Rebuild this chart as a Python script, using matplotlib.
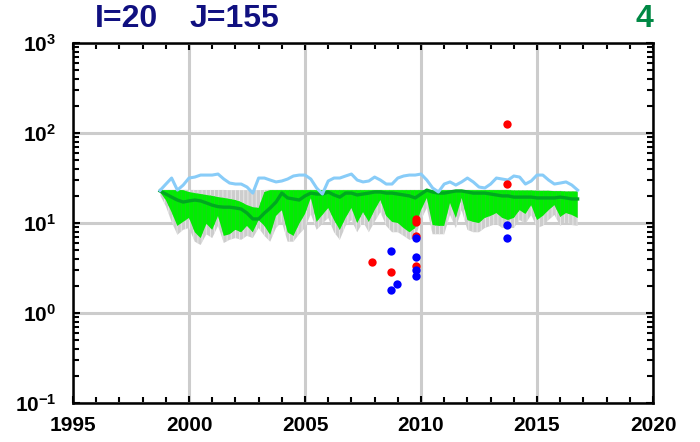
import numpy as np
import matplotlib
matplotlib.use('Agg')
import matplotlib.pyplot as plt
from matplotlib.ticker import LogLocator, MultipleLocator, NullFormatter

plt.rcParams['font.family'] = ['Liberation Sans', 'DejaVu Sans']
plt.rcParams['mathtext.fontset'] = 'custom'
plt.rcParams['mathtext.bf'] = 'Liberation Sans:bold'
plt.rcParams['mathtext.rm'] = 'Liberation Sans'
plt.rcParams['hatch.linewidth'] = 0.6

# quarterly sampling, 1998.75 .. 2016.75
t = 1998.75 + 0.25 * np.arange(73)

# light blue line
blue_line = [23.0, 27.0, 31.6, 23.2, 26.4, 31.6, 32.4, 34.1, 34.1, 34.1,
             35.0, 30.8, 27.8, 27.1, 27.1, 25.1, 21.5, 31.6, 31.6, 30.0,
             28.6, 29.3, 30.8, 33.3, 34.1, 34.1, 30.8, 24.5, 21.0, 29.3,
             31.6, 31.6, 33.3, 35.0, 30.0, 28.6, 29.3, 32.4, 30.0, 27.1,
             27.1, 31.6, 33.3, 34.1, 34.1, 35.0, 30.0, 24.5, 22.1, 27.1,
             28.6, 26.4, 28.6, 31.6, 28.6, 25.1, 24.5, 27.1, 31.6, 30.8,
             30.0, 33.3, 32.4, 27.1, 29.3, 34.1, 34.1, 30.0, 27.1, 27.8,
             28.6, 26.4, 23.2]

# dark green median
median = [22.7, 21.0, 19.4, 18.0, 17.1, 17.6, 18.0, 17.6, 16.7, 15.8,
          15.2, 15.0, 15.0, 14.7, 14.3, 12.9, 11.1, 11.1, 12.9, 14.7,
          17.1, 21.5, 19.0, 18.5, 18.0, 20.0, 21.5, 21.0, 21.0, 22.1,
          20.5, 19.4, 21.5, 21.5, 20.5, 21.0, 21.5, 22.1, 22.1, 21.5,
          21.5, 21.0, 20.5, 20.0, 19.0, 21.0, 23.2, 22.1, 21.5, 21.5,
          22.1, 22.7, 22.7, 22.1, 21.5, 21.5, 21.5, 21.0, 20.5, 20.0,
          20.0, 19.4, 19.4, 19.4, 19.4, 19.0, 19.0, 19.0, 19.0, 19.4,
          19.0, 18.5, 18.5]

# green band
green_top = [23.2, 23.2, 23.2, 23.2, 23.2, 22.1, 21.5, 21.0, 20.5, 20.0,
             19.4, 19.0, 18.5, 18.0, 17.1, 15.8, 15.0, 14.7, 22.1, 23.2,
             23.2, 23.2, 23.2, 23.2, 23.2, 23.2, 23.2, 23.2, 23.2, 23.2,
             23.2, 23.2, 23.2, 23.2, 23.2, 23.2, 23.2, 23.2, 23.2, 23.2,
             23.2, 23.2, 23.2, 23.2, 23.2, 23.2, 23.2, 23.2, 23.2, 23.2,
             23.2, 23.2, 23.2, 23.2, 23.2, 23.2, 23.2, 23.2, 23.2, 23.2,
             23.2, 23.0, 23.0, 23.0, 23.0, 22.8, 22.8, 22.8, 22.6, 22.6,
             22.4, 22.4, 22.4]
green_bot = [22.1, 18.0, 13.2, 9.3, 10.3, 11.4, 7.9, 6.8, 9.8, 8.4,
             12.0, 7.2, 7.5, 8.4, 7.9, 9.3, 7.9, 10.8, 9.3, 7.4,
             12.0, 13.9, 7.9, 7.2, 9.8, 12.6, 19.0, 10.3, 12.3, 14.7,
             10.8, 8.4, 11.4, 14.7, 10.0, 13.2, 10.3, 13.9, 18.0, 12.0,
             10.3, 10.0, 8.8, 7.9, 8.8, 13.9, 19.0, 9.5, 9.3, 9.3,
             16.7, 11.4, 19.0, 10.8, 10.3, 10.0, 11.4, 12.0, 12.9, 11.4,
             10.8, 11.4, 13.9, 12.6, 15.8, 10.8, 12.0, 13.9, 15.8, 11.7,
             12.9, 12.3, 11.4]

# grey band
grey_top = [23.4, 23.4, 23.4, 23.4, 23.4, 23.4, 23.3, 23.3, 23.3, 23.3,
            23.3, 23.3, 23.2, 23.2, 23.2, 23.2, 23.2, 23.2, 23.3, 23.4,
            23.4, 23.4, 23.4, 23.4, 23.4, 23.4, 23.4, 23.4, 23.4, 23.4,
            23.4, 23.4, 23.4, 23.4, 23.4, 23.4, 23.4, 23.4, 23.4, 23.4,
            23.4, 23.4, 23.4, 23.4, 23.4, 23.4, 23.4, 23.4, 23.4, 23.4,
            23.4, 23.4, 23.4, 23.4, 23.4, 23.4, 23.4, 23.4, 23.4, 23.4,
            23.4, 23.2, 23.2, 23.2, 23.2, 23.0, 23.0, 23.0, 22.8, 22.8,
            22.6, 22.6, 22.6]
grey_bot = [20.5, 15.4, 10.3, 7.4, 8.4, 8.8, 6.2, 5.7, 7.5, 6.8,
            9.3, 6.0, 6.5, 6.8, 6.5, 7.2, 6.8, 8.8, 7.2, 6.2,
            8.8, 10.3, 6.2, 6.2, 7.5, 8.8, 12.6, 8.4, 9.8, 11.4,
            7.9, 6.5, 9.3, 10.8, 7.9, 10.3, 7.9, 10.3, 13.2, 9.3,
            7.9, 7.9, 7.2, 6.5, 6.8, 10.8, 14.7, 7.5, 7.5, 7.5,
            12.3, 8.8, 13.9, 8.4, 7.9, 7.9, 8.8, 9.3, 9.8, 8.8,
            8.8, 8.8, 10.8, 9.8, 12.3, 8.8, 9.3, 10.8, 12.3, 9.3,
            10.3, 9.5, 9.3]

# observation points
red_t = [2013.7, 2013.7, 2009.8, 2009.8, 2009.8, 2007.9, 2008.7, 2009.8]
red_v = [126, 27, 11.2, 10.3, 7.2, 3.7, 2.85, 3.3]
blue_t = [2013.7, 2013.7, 2008.7, 2008.7, 2008.95, 2009.8, 2009.8, 2009.8, 2009.8]
blue_v = [9.5, 6.8, 4.85, 1.79, 2.1, 6.9, 4.2, 3.0, 2.6]

fig = plt.figure(figsize=(7.0, 4.42), dpi=100)
ax = fig.add_axes([0.1043, 0.0882, 0.8286, 0.8145])

ax.fill_between(t, grey_bot, grey_top, facecolor='#cdcdcd', edgecolor='#ececec',
                hatch='||||', lw=0, zorder=2)
ax.fill_between(t, green_bot, green_top, facecolor='#00ee00', edgecolor='#1cd41c',
                hatch='||||', lw=0, zorder=3)
ax.plot(t, median, color='#00a820', lw=2.4, zorder=4)
ax.plot(t, blue_line, color='#88ccf8', lw=2.2, zorder=4)
ax.plot(red_t, red_v, 'o', color='#ff0000', ms=6, mec='none', zorder=5)
ax.plot(blue_t, blue_v, 'o', color='#0000ff', ms=6, mec='none', zorder=5)

ax.set_yscale('log')
ax.set_xlim(1995, 2020)
ax.set_ylim(0.1, 1000)

ax.set_xticks([1995, 2000, 2005, 2010, 2015, 2020])
ax.set_xticklabels(['1995', '2000', '2005', '2010', '2015', '2020'],
                   fontsize=15, fontweight='bold')
ax.xaxis.set_minor_locator(MultipleLocator(1))
ax.set_yticks([0.1, 1, 10, 100, 1000])
ax.set_yticklabels([r'$\mathbf{10^{-1}}$', r'$\mathbf{10^{0}}$', r'$\mathbf{10^{1}}$',
                    r'$\mathbf{10^{2}}$', r'$\mathbf{10^{3}}$'], fontsize=15)
ax.yaxis.set_minor_locator(LogLocator(base=10, subs=np.arange(2, 10)))
ax.yaxis.set_minor_formatter(NullFormatter())

ax.tick_params(which='both', direction='in', top=True, right=True, width=1.5)
ax.tick_params(which='major', length=5)
ax.tick_params(axis='x', which='major', pad=9)
ax.tick_params(axis='y', which='major', pad=12)
ax.tick_params(which='minor', length=4)
for s in ax.spines.values():
    s.set_linewidth(1.8)

ax.grid(True, which='major', color='#cccccc', lw=2.2, zorder=1)
ax.set_axisbelow(True)

fig.text(0.136, 0.958, 'I=20', color='#101080', fontsize=23, fontweight='bold',
         va='center')
fig.text(0.271, 0.958, 'J=155', color='#101080', fontsize=23, fontweight='bold',
         va='center')
fig.text(0.933, 0.958, '4', color='#008844', fontsize=23, fontweight='bold',
         va='center', ha='right')

fig.savefig('out.png', dpi=100)
